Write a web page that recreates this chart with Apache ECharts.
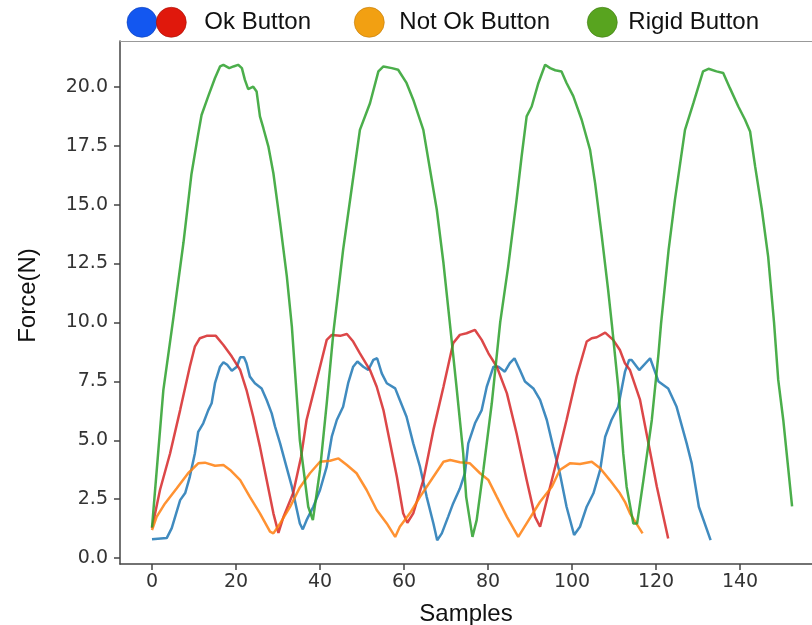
<!DOCTYPE html>
<html>
<head>
<meta charset="utf-8">
<script src="https://cdn.jsdelivr.net/npm/echarts@6/dist/echarts.min.js"></script>
<style>html,body{margin:0;padding:0;background:#fff;}#c{width:812px;height:625px;}</style>
</head>
<body>
<div id="c"></div>
<script>
// ---- data: [sample, force(N)] ----
var okButtonA = [[0,0.8],[3.5,0.85],[4.7,1.27],[6.7,2.46],[7.9,2.76],[9,3.45],[10.2,4.44],[11,5.36],[12.2,5.72],[13.4,6.28],[14.2,6.57],[15,7.42],[16.2,8.12],[17,8.31],[17.9,8.2],[19,7.95],[20.2,8.12],[21,8.52],[21.9,8.52],[22.5,8.27],[23.3,7.7],[24.5,7.42],[26.1,7.2],[27.3,6.71],[28.5,6.14],[29.3,5.58],[30.5,4.87],[32,3.88],[33.3,3.03],[34.5,2.04],[35.2,1.47],[35.9,1.22],[36.8,1.61],[38.4,2.18],[40,2.89],[41.6,3.88],[42.8,5.15],[44,5.86],[45.5,6.42],[46.7,7.42],[47.9,8.12],[48.9,8.34],[50.3,8.12],[51.5,7.98],[52.7,8.41],[53.6,8.48],[54.7,7.84],[55.9,7.42],[57.9,7.2],[59,6.71],[60.6,6.0],[62.2,4.87],[63.8,3.88],[65.4,2.6],[67,1.47],[67.9,0.76],[69,1.05],[70.5,1.75],[71.7,2.32],[73.3,2.95],[74.5,3.6],[75.3,4.87],[76.9,5.72],[78.5,6.28],[79.7,7.27],[81.3,8.12],[82.5,8.12],[84,7.91],[85.2,8.27],[86.3,8.48],[87.6,7.98],[88.8,7.49],[90.8,7.2],[92.4,6.71],[94,5.86],[95.5,4.73],[97.1,3.6],[98.7,2.18],[100.5,0.98],[101.9,1.33],[103.5,2.18],[105.1,2.75],[106.7,3.74],[107.9,5.15],[109.4,5.86],[111,6.42],[112.6,7.9],[113.6,8.41],[114.2,8.41],[116,7.98],[118.6,8.48],[120.6,7.49],[122.9,7.2],[124.9,6.42],[127.3,4.87],[128.5,4.02],[130.2,2.18],[133,0.76]];
var okButtonB = [[0,1.27],[1.9,2.89],[4.3,4.44],[6.7,6.28],[9,8.12],[10.2,8.97],[11.4,9.33],[13,9.43],[15.2,9.43],[17,9.04],[19,8.55],[21,7.98],[22.5,7.13],[24.1,6.0],[25.7,4.73],[27.3,3.31],[28.9,1.9],[30.1,1.07],[31.3,1.75],[33.6,2.75],[35.5,4.3],[36.8,5.86],[38.4,6.99],[40,8.12],[41.6,9.26],[42.8,9.47],[44.8,9.43],[46.4,9.51],[47.9,9.19],[49.5,8.69],[51.9,7.98],[53.5,7.27],[55.1,6.28],[56.7,4.87],[58.3,3.45],[59.8,1.9],[60.8,1.5],[62.2,1.9],[64.6,3.31],[67,5.44],[69.4,7.27],[71.7,9.12],[73.3,9.47],[74.9,9.54],[76.9,9.68],[78.5,9.26],[80.1,8.69],[82.1,8.12],[84.5,6.99],[86.8,5.3],[89.2,3.31],[91.2,1.75],[92.4,1.33],[94,2.46],[96.4,4.16],[98.7,5.86],[101.1,7.7],[103.5,9.19],[104.7,9.33],[105.9,9.37],[107.9,9.57],[109.8,9.26],[111.4,8.83],[112.6,8.27],[113.8,7.98],[116.2,6.71],[118.2,4.87],[120.2,3.03],[122.9,0.83]];
var notOkButton = [[0,1.19],[1.1,1.75],[3.1,2.32],[5.9,2.96],[8.6,3.6],[11,4.02],[12.6,4.05],[15,3.92],[17,3.95],[18.6,3.74],[21,3.31],[23.3,2.6],[25.7,1.9],[28.1,1.12],[28.9,1.05],[30.5,1.47],[32.9,2.18],[35.2,3.0],[37.6,3.6],[40,4.09],[42.4,4.13],[44.4,4.23],[46.4,3.95],[48.7,3.6],[51.1,2.89],[53.5,2.04],[55.9,1.47],[57.9,0.9],[59,1.33],[61.4,1.9],[63.8,2.6],[67,3.45],[69.4,4.09],[71,4.16],[73.3,4.07],[75.7,4.02],[78.1,3.6],[80.1,3.31],[82.1,2.6],[84.5,1.75],[87.2,0.9],[89.2,1.47],[92.4,2.39],[95.2,3.03],[97.1,3.74],[99.5,4.02],[101.9,3.99],[104.7,4.09],[106.7,3.81],[109,3.31],[111.4,2.75],[112.6,2.39],[113.8,1.9],[116.8,1.05]];
var rigidButton = [[0,1.3],[2.7,7.13],[5.1,10.2],[7.5,13.4],[9.4,16.3],[11,18.0],[11.8,18.8],[13.4,19.6],[15,20.37],[16.2,20.86],[17,20.93],[18.4,20.79],[19.4,20.86],[20.5,20.93],[21.4,20.79],[22.1,20.3],[22.9,19.9],[24.1,20.0],[24.9,19.8],[25.7,18.74],[26.5,18.25],[27.7,17.47],[28.9,16.33],[30.5,14.21],[32.1,11.95],[33.3,9.82],[35.2,5.0],[37.2,2.18],[38.3,1.61],[40,3.74],[41.6,6.57],[43.2,9.6],[45.5,13.08],[47.5,15.63],[49.5,18.17],[51.9,19.3],[53.9,20.65],[55.1,20.86],[57.1,20.79],[58.6,20.72],[60.6,20.16],[62.2,19.45],[64.6,18.17],[66.2,16.48],[67.8,14.79],[69.4,12.51],[71,9.82],[72.5,7.27],[74.1,4.44],[74.8,2.6],[76.3,0.9],[77.3,1.61],[78.9,3.74],[80.9,6.57],[82.9,10.0],[84.8,12.37],[86.8,15.2],[88,17.04],[89.2,18.74],[90.4,19.16],[92,20.16],[93.6,20.93],[94.8,20.79],[96,20.7],[97.5,20.65],[98.7,20.16],[100.3,19.6],[102.3,18.6],[104.3,17.32],[105.5,15.91],[107.1,13.64],[108.6,11.38],[109.5,9.9],[111,7.27],[112.2,4.44],[113,3.03],[114.6,1.47],[115.5,1.47],[117,3.31],[119,5.86],[120.6,8.69],[121.2,9.95],[123,13.08],[124.5,15.2],[126.9,18.17],[128.9,19.3],[131.2,20.65],[132.5,20.76],[134.4,20.65],[136,20.58],[137.6,19.94],[139.6,19.16],[141.2,18.6],[142.4,18.1],[143.6,16.62],[145.2,14.79],[146.7,12.79],[148.1,10.0],[149.1,7.56],[150.3,5.86],[152.4,2.2]];

var xTicks = [0, 20, 40, 60, 80, 100, 120, 140];
var yTicks = [0, 2.5, 5, 7.5, 10, 12.5, 15, 17.5, 20];
var legendNames = ['Ok Button', 'Not Ok Button', 'Rigid Button'];

// ---- chart ----
var chart = echarts.init(document.getElementById('c'), null, {renderer: 'canvas'});
var tickFont = {fontFamily: 'DejaVu Sans', fontSize: 19, color: '#333'};
var axisCol = '#444';
var X_MIN = -7.62, X_MAX = 157.14;

function lineSeries(name, data, color) {
  return {
    name: name, type: 'line', data: data, showSymbol: false, symbol: 'none',
    lineStyle: {color: color, width: 2.5, opacity: 0.85},
    itemStyle: {color: color},
    animation: false, z: 2
  };
}

function legendItem(left, name, fill, stroke, pad, hideText) {
  return {
    left: left, top: 7, padding: 0, itemWidth: 32, itemHeight: 30, icon: 'circle',
    selectedMode: false,
    formatter: hideText ? function () { return ''; } : '{name}',
    textStyle: {fontFamily: 'Liberation Sans', fontSize: 24, color: '#111', padding: [4, 0, 0, pad]},
    data: [{name: name, itemStyle: {color: fill, borderColor: stroke, borderWidth: 0.6}}]
  };
}

chart.setOption({
  animation: false,
  grid: {left: 120, top: 41, right: 0, bottom: 61, show: false, containLabel: false, outerBoundsMode: 'none'},
  legend: [
    legendItem(126, 'Ok Button (2)', '#1357f0', '#0d3fb5', 0, true),
    legendItem(156, legendNames[0], '#e0180c', '#a51208', 12, false),
    legendItem(354, legendNames[1], '#f2a012', '#c07a0a', 9, false),
    legendItem(587, legendNames[2], '#58a41f', '#3f7a14', 5, false)
  ],
  xAxis: [{
    type: 'value', min: X_MIN, max: X_MAX,
    name: 'Samples', nameLocation: 'middle', nameGap: 38,
    nameTextStyle: {fontFamily: 'Liberation Sans', fontSize: 24, color: '#111'},
    axisLine: {show: true, onZero: false, lineStyle: {color: axisCol, width: 1.5}},
    axisTick: {show: true, length: 6, customValues: xTicks, lineStyle: {color: axisCol, width: 1.5}},
    axisLabel: Object.assign({margin: 9, customValues: xTicks}, tickFont),
    splitLine: {show: false}
  }, {
    type: 'value', position: 'top', min: X_MIN, max: X_MAX,
    axisLine: {show: true, onZero: false, lineStyle: {color: '#999', width: 1.2}},
    axisTick: {show: false}, axisLabel: {show: false}, splitLine: {show: false}
  }],
  yAxis: {
    type: 'value', min: -0.25, max: 21.94,
    name: 'Force(N)', nameLocation: 'middle', nameGap: 80,
    nameTextStyle: {fontFamily: 'Liberation Sans', fontSize: 24, color: '#111', padding: [0, 0, 0, 14]},
    axisLine: {show: true, onZero: false, lineStyle: {color: axisCol, width: 1.5}},
    axisTick: {show: true, length: 6, customValues: yTicks, lineStyle: {color: axisCol, width: 1.5}},
    axisLabel: Object.assign({margin: 12, customValues: yTicks, formatter: function (v) { return v.toFixed(1); }}, tickFont),
    splitLine: {show: false}
  },
  series: [
    lineSeries('Ok Button (2)', okButtonA, '#1f77b4'),
    lineSeries('Ok Button', okButtonB, '#d62728'),
    lineSeries('Not Ok Button', notOkButton, '#ff7f0e'),
    lineSeries('Rigid Button', rigidButton, '#2ca02c')
  ]
});
</script>
</body>
</html>
